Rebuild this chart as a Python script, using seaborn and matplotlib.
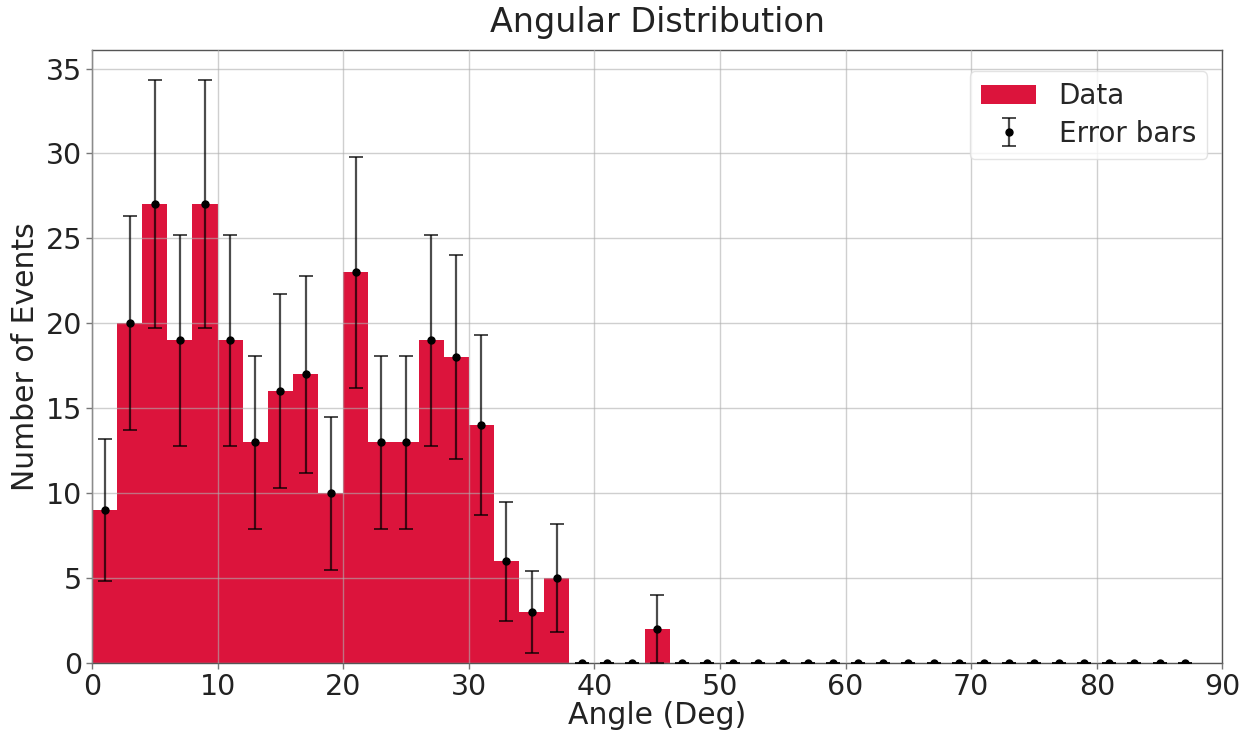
import numpy as np
import matplotlib
matplotlib.use("Agg")
import matplotlib.pyplot as plt
import seaborn as sns

# Bin centres (degrees), counts and error bar half-widths
angles = [1, 3, 5, 7, 9, 11, 13, 15, 17, 19, 21, 23, 25, 27, 29, 31, 33, 35, 37,
          39, 41, 43, 45, 47, 49, 51, 53, 55, 57, 59, 61, 63, 65, 67, 69, 71, 73,
          75, 77, 79, 81, 83, 85, 87]
counts = [9, 20, 27, 19, 27, 19, 13, 16, 17, 10, 23, 13, 13, 19, 18, 14, 6, 3, 5,
          0, 0, 0, 2, 0, 0, 0, 0, 0, 0, 0, 0, 0, 0, 0, 0, 0, 0,
          0, 0, 0, 0, 0, 0, 0]
errors = [4.2, 6.3, 7.3, 6.2, 7.3, 6.2, 5.1, 5.7, 5.8, 4.5, 6.8, 5.1, 5.1, 6.2, 6.0,
          5.3, 3.5, 2.4, 3.2, 0, 0, 0, 2.0, 0, 0, 0, 0, 0, 0, 0, 0, 0, 0, 0, 0, 0,
          0, 0, 0, 0, 0, 0, 0, 0]
bin_edges = list(range(0, 90, 2))

sns.set_style("ticks")
plt.rcParams["font.family"] = ["DejaVu Sans"]

fig = plt.figure(figsize=(12.48, 7.33), dpi=100)
ax = fig.add_axes([0.0737, 0.0955, 0.9058, 0.8365])

sns.histplot(x=angles, weights=counts, bins=bin_edges, color="#DC143C",
             alpha=1.0, linewidth=0, ax=ax, label="Data", zorder=1)
ax.errorbar(angles, counts, yerr=errors, fmt="o", color="black", markersize=5,
            ecolor=(0, 0, 0, 0.7), elinewidth=1.6, capsize=5, capthick=1.4,
            label="Error bars", zorder=3)

ax.grid(True, color="#b0b0b0", alpha=0.6, linewidth=1.0, zorder=2)
ax.set_axisbelow(False)

ax.set_xlim(0, 90)
ax.set_ylim(0, 36.1)
ax.set_xticks(range(0, 91, 10))
ax.set_yticks(range(0, 36, 5))
ax.tick_params(labelsize=20.5, length=4, width=1, color="#777777", pad=3,
               labelcolor="#222222")
for s in ax.spines.values():
    s.set_color("#555555")
    s.set_linewidth(1.0)

ax.set_xlabel("Angle (Deg)", fontsize=21.5, labelpad=0, color="#222222")
ax.set_ylabel("Number of Events", fontsize=21.5, labelpad=4, color="#222222")
ax.set_title("Angular Distribution", fontsize=24, pad=13, color="#222222")

ax.legend(loc="upper right", fontsize=20, frameon=True, framealpha=0.8,
          edgecolor="#dddddd", borderpad=0.4, labelspacing=0.35,
          handlelength=2.0, borderaxespad=0.55,
          bbox_to_anchor=(1.0, 0.99))

fig.savefig("out.png", dpi=100)
